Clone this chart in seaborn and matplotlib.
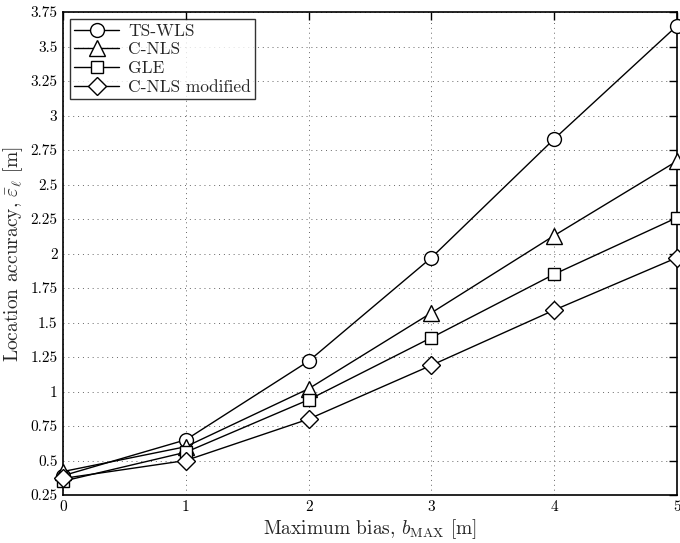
import matplotlib
matplotlib.use("Agg")
import matplotlib.pyplot as plt
import seaborn as sns
import pandas as pd

bias = [0, 1, 2, 3, 4, 5]
ts_wls = [0.39, 0.65, 1.22, 1.97, 2.83, 3.65]
c_nls = [0.42, 0.60, 1.02, 1.57, 2.13, 2.67]
gle = [0.35, 0.56, 0.94, 1.39, 1.85, 2.26]
c_nls_mod = [0.37, 0.50, 0.80, 1.19, 1.59, 1.97]
names = ["TS-WLS", "C-NLS", "GLE", "C-NLS modified"]
series = [ts_wls, c_nls, gle, c_nls_mod]
markers = ["o", "^", "s", "D"]
msizes = [10, 11, 9, 9]
yticks = [0.25, 0.5, 0.75, 1, 1.25, 1.5, 1.75, 2, 2.25, 2.5, 2.75, 3, 3.25, 3.5, 3.75]
ytick_labels = ["0.25", "0.5", "0.75", "1", "1.25", "1.5", "1.75", "2", "2.25",
                "2.5", "2.75", "3", "3.25", "3.5", "3.75"]

sns.set_theme(style="white")
plt.rcParams["font.family"] = ["cmr10", "DejaVu Serif"]
plt.rcParams["mathtext.fontset"] = "cm"
plt.rcParams["axes.formatter.use_mathtext"] = True

fig = plt.figure(figsize=(6.8, 5.43), dpi=100)
ax = fig.add_axes([63 / 680, 1 - 495 / 543, 614 / 680, 483 / 543])

for name, vals, m, ms in zip(names, series, markers, msizes):
    df = pd.DataFrame({"bias": bias, "acc": vals})
    sns.lineplot(data=df, x="bias", y="acc", ax=ax, color="black", lw=1.0,
                 marker=m, markersize=ms, markerfacecolor="white",
                 markeredgecolor="black", markeredgewidth=1.0, label=name,
                 clip_on=False, zorder=3)

ax.set_xlim(0, 5)
ax.set_ylim(0.25, 3.75)
ax.set_xticks(bias)
ax.set_xticklabels([str(b) for b in bias])
ax.set_yticks(yticks)
ax.set_yticklabels(ytick_labels)
ax.grid(True, linestyle=(0, (1, 4)), color="#666666", lw=0.7)
ax.tick_params(direction="in", length=6, width=1, top=True, right=True,
               labelsize=11, colors="black", pad=4)
for s in ax.spines.values():
    s.set_color("black")
    s.set_linewidth(1.2)

ax.set_xlabel(r"Maximum bias, $b_{\mathrm{MAX}}$ [m]", fontsize=14, labelpad=2)
ax.set_ylabel(r"Location accuracy, $\bar{\varepsilon}_{\ell}$ [m]", fontsize=14, labelpad=4)

leg = ax.legend(loc="upper left", frameon=True, fancybox=False, fontsize=12.5,
                borderaxespad=0.4, handlelength=2.6, labelspacing=0.2,
                borderpad=0.25, handletextpad=0.5)
leg.get_frame().set_edgecolor("black")
leg.get_frame().set_linewidth(1.0)

fig.savefig("out.png", dpi=100)
